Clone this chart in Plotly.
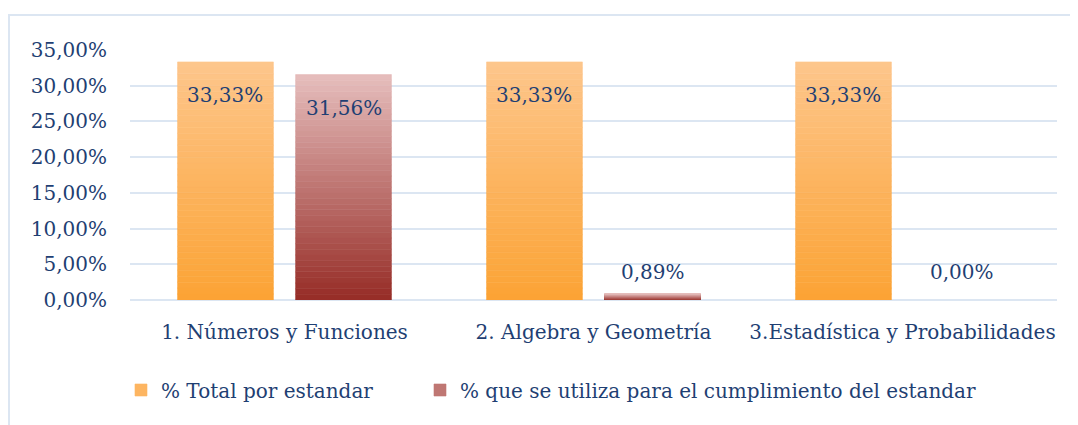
import plotly.graph_objects as go

categories = ["1. Números y Funciones", "2. Algebra y Geometría", "3.Estadística y Probabilidades"]
total_por_estandar = [33.33, 33.33, 33.33]
cumplimiento = [31.56, 0.89, 0.00]
series_names = ["% Total por estandar", "% que se utiliza para el cumplimiento del estandar"]
y_ticks = [0, 5, 10, 15, 20, 25, 30, 35]

TEXT = "#1F3F73"
FONT = "DejaVu Serif"
N = 40

grad = [((252, 163, 52), (253, 198, 140)),   # orange bottom -> top
        ((150, 44, 38), (230, 190, 189))]     # red bottom -> top

def mix(c0, c1, t):
    return "rgb(%d,%d,%d)" % tuple(round(a + (b - a) * t) for a, b in zip(c0, c1))

def fmt(v):
    return ("%.2f" % v).replace(".", ",") + "%"

W = 0.31
offsets = [-0.346, 0.036]
legends = ["legend", "legend2"]

fig = go.Figure()
for si, vals in enumerate([total_por_estandar, cumplimiento]):
    c0, c1 = grad[si]
    for k in range(N):
        t = (k + 0.5) / N
        col = mix(c0, c1, t)
        fig.add_trace(go.Bar(
            x=categories,
            y=[v / N for v in vals],
            base=[v * k / N for v in vals],
            width=W, offset=offsets[si],
            marker=dict(color=col, line=dict(width=[0.6 if v > 0 else 0 for v in vals], color=col)),
            name=series_names[si],
            legendgroup=series_names[si],
            legend=legends[si],
            showlegend=(k == N // 2),
            hoverinfo="skip",
        ))

# plot area: 927 px wide, 3 categories
for si, vals in enumerate([total_por_estandar, cumplimiento]):
    xshift = (offsets[si] + W / 2) * 309
    for c, v in zip(categories, vals):
        if v > 5:
            fig.add_annotation(x=c, y=v, text=fmt(v), showarrow=False, xshift=xshift,
                               yshift=-33, yanchor="middle",
                               font=dict(family=FONT, size=20, color=TEXT))
        else:
            fig.add_annotation(x=c, y=0, text=fmt(v), showarrow=False, xshift=xshift,
                               yshift=14, yanchor="bottom",
                               font=dict(family=FONT, size=20, color=TEXT))

L, T, PW, PH = 122, 42, 927, 250

# outer chart border
fig.add_shape(type="rect", xref="paper", yref="paper",
              x0=(1 - L) / PW, x1=(1090 - L) / PW,
              y0=-(440 - T - PH) / PH, y1=(T + PH - 7) / PH,
              line=dict(color="#DCE6F2", width=2), fillcolor="rgba(0,0,0,0)", layer="below")

fig.update_layout(
    width=1070, height=417,
    margin=dict(l=L, r=1070 - L - PW, t=T, b=417 - T - PH, autoexpand=False),
    barmode="overlay",
    paper_bgcolor="white", plot_bgcolor="white",
    font=dict(family=FONT, color=TEXT),
    xaxis=dict(type="category", showgrid=False, showline=False, ticks="",
               tickfont=dict(family=FONT, size=20, color=TEXT), ticklabelstandoff=18),
    yaxis=dict(range=[0, 35], tickvals=y_ticks, ticktext=[fmt(v) for v in y_ticks],
               showgrid=True, gridcolor="#DCE6F2", gridwidth=2,
               zeroline=True, zerolinecolor="#DCE6F2", zerolinewidth=2,
               showline=False, ticks="", ticklabelstandoff=22,
               tickfont=dict(family=FONT, size=20, color=TEXT)),
    legend=dict(orientation="h", x=(113 - L) / PW, y=-(382 - T - PH) / PH,
                yanchor="middle", xanchor="left",
                font=dict(family=FONT, size=20, color=TEXT), bgcolor="rgba(0,0,0,0)"),
    legend2=dict(orientation="h", x=(412 - L) / PW, y=-(382 - T - PH) / PH,
                 yanchor="middle", xanchor="left",
                 font=dict(family=FONT, size=20, color=TEXT), bgcolor="rgba(0,0,0,0)"),
    showlegend=True,
)

fig.write_html("out.html")
